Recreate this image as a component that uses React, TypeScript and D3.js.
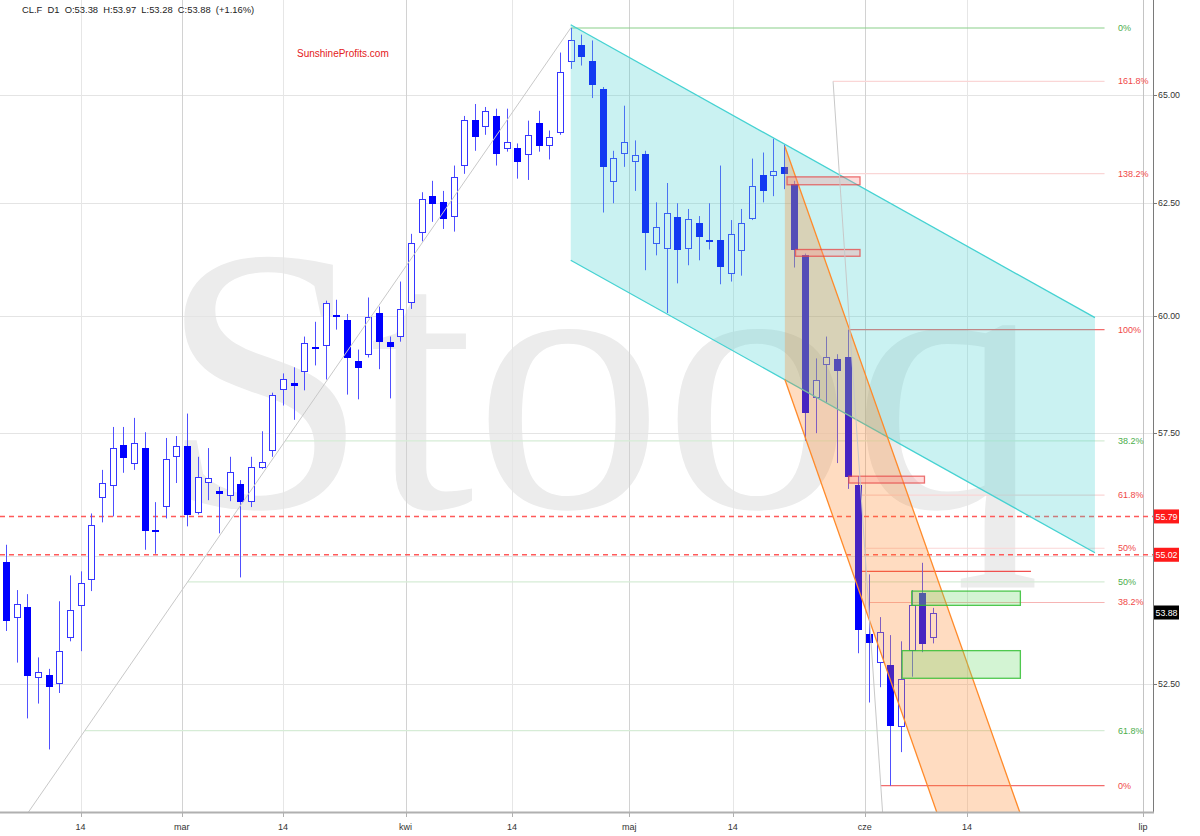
import React from "react";
import * as d3 from "d3";

const W = 1200;
const H = 836;
const PLOT = { left: 0, right: 1153, top: 0, bottom: 812 };

// CL.F daily candles, trading days 2019-02-05 … 2019-06-11 (index 0 … 87)
const opens = [
  54.88, 53.77, 53.98, 52.62, 52.68, 52.5, 53.38, 54.0, 54.51, 56.16,
  56.41, 57.25, 56.86, 57.19, 55.51, 55.98, 57.01, 57.23, 55.85, 56.47,
  56.31, 56.2, 56.45, 56.08, 56.78, 57.13, 58.4, 58.55, 58.78, 59.32,
  59.34, 60.02, 59.91, 59.02, 59.15, 60.07, 59.44, 59.55, 60.29, 61.84,
  62.66, 62.52, 62.19, 63.36, 64.42, 64.26, 64.51, 63.75, 63.77, 63.61,
  64.35, 63.8, 64.12, 65.79, 66.2, 65.82, 65.14, 62.99, 63.63, 63.45,
  63.63, 61.59, 61.48, 62.19, 61.48, 62.06, 61.68, 61.68, 60.91, 61.42,
  62.15, 63.15, 63.13, 63.33, 62.94, 61.33, 58.23, 58.95, 59.06, 59.12,
  56.43, 53.46, 52.91, 52.87, 51.68, 53.14, 54.26, 53.38,
];
const highs = [
  55.22, 54.32, 54.24, 53.01, 52.79, 54.1, 54.61, 54.69, 55.85, 56.74,
  57.63, 57.63, 57.82, 57.52, 56.08, 57.4, 57.44, 57.91, 57.01, 57.19,
  56.39, 57.01, 56.53, 57.01, 57.54, 58.35, 58.76, 58.89, 59.55, 59.87,
  60.33, 60.35, 60.04, 59.27, 60.4, 60.2, 59.55, 60.75, 61.81, 62.75,
  63.01, 62.78, 63.36, 64.51, 64.79, 64.72, 64.68, 64.68, 63.87, 64.4,
  64.63, 64.17, 66.01, 66.6, 66.44, 66.3, 65.19, 63.7, 64.75, 63.94,
  63.7, 62.52, 62.96, 62.5, 62.37, 62.21, 62.5, 63.36, 62.12, 62.37,
  63.52, 63.66, 63.98, 63.84, 63.01, 61.37, 59.08, 59.55, 59.17, 59.7,
  56.61, 54.63, 53.79, 53.44, 53.32, 54.32, 54.86, 53.97,
];
const lows = [
  53.52, 52.91, 51.85, 52.13, 51.27, 52.33, 53.32, 53.13, 54.3, 55.67,
  55.79, 56.68, 56.74, 55.12, 55.04, 55.75, 56.47, 55.59, 55.83, 56.12,
  55.45, 56.1, 54.57, 55.98, 56.76, 57.01, 58.08, 57.78, 58.4, 58.93,
  58.63, 59.7, 58.31, 58.21, 59.1, 58.85, 58.23, 59.44, 60.15, 61.64,
  62.08, 61.92, 61.86, 63.17, 63.7, 64.07, 63.36, 63.68, 63.06, 63.03,
  63.68, 63.5, 64.07, 65.62, 65.7, 64.93, 62.29, 62.5, 63.33, 62.78,
  61.0, 61.33, 60.06, 60.71, 61.11, 61.22, 61.46, 60.69, 60.75, 60.88,
  62.12, 62.52, 62.66, 62.82, 61.06, 57.34, 57.5, 58.14, 56.88, 56.35,
  53.09, 52.15, 52.44, 50.6, 51.22, 52.64, 53.11, 53.28,
];
const closes = [
  53.71, 54.04, 52.66, 52.73, 52.44, 53.13, 53.93, 54.45, 55.61, 56.47,
  57.19, 56.98, 57.29, 55.49, 55.49, 56.96, 57.23, 55.81, 56.59, 56.57,
  56.24, 56.7, 56.08, 56.8, 56.9, 58.31, 58.65, 58.5, 59.42, 59.29,
  60.27, 59.98, 59.08, 58.87, 59.98, 59.44, 59.32, 60.15, 61.61, 62.59,
  62.48, 62.15, 63.1, 64.42, 64.03, 64.63, 63.63, 63.91, 63.45, 64.07,
  63.8, 64.03, 65.55, 66.3, 65.91, 65.24, 63.33, 63.54, 63.91, 63.61,
  61.84, 61.97, 62.28, 61.44, 62.15, 61.73, 61.66, 61.08, 61.81, 62.06,
  62.89, 62.78, 63.24, 63.17, 61.44, 57.93, 58.63, 59.12, 58.82, 56.59,
  53.54, 53.28, 53.5, 51.7, 52.6, 54.02, 53.26, 53.88,
];

// axes
const yTicks = [52.5, 55, 57.5, 60, 62.5, 65];
const xTickLabels = ["14", "mar", "14", "kwi", "14", "maj", "14", "cze", "14", "lip"];
const xTickPos = [7, 16.5, 26, 37.5, 47.5, 58.5, 68.2, 80.6, 90.2, 106.7];
const xTickIsMonth = [false, true, false, true, false, true, false, true, false, true];

// drawings (index, price)
const cyanUpper = [{ i: 53, p: 66.68 }, { i: 102.2, p: 59.96 }];
const cyanLower = [{ i: 53, p: 61.22 }, { i: 102.2, p: 55.06 }];
const orangeUpper = [{ i: 73.1, p: 63.8 }, { i: 97.2, p: 49.0 }];
const orangeLower = [{ i: 73.1, p: 58.63 }, { i: 89.4, p: 49.0 }];

const redBoxes = [
  { i0: 73.3, i1: 80.15, pTop: 63.1, pBot: 62.92 },
  { i0: 74.1, i1: 80.15, pTop: 61.46, pBot: 61.31 },
  { i0: 79.1, i1: 86.2, pTop: 56.61, pBot: 56.47 },
];
const greenBoxes = [
  { i0: 85.0, i1: 95.2, pTop: 54.3, pBot: 54.02 },
  { i0: 84.1, i1: 95.2, pTop: 53.14, pBot: 52.61 },
];
const redSegment = { i0: 80.3, i1: 96.2, p: 54.69 };
const dashedLevels = [55.79, 55.02];
const lastPrice = 53.88;

// Fibonacci retracements: 100% anchor -> 0% anchor
const greenFib = { from: { i: -28, p: 42.36 }, to: { i: 53, p: 66.6 } };
const greenFibLevels = [0, 0.382, 0.5, 0.618];
const redFib = { from: { i: 79.2, p: 59.7 }, to: { i: 82.1, p: 50.6 } };
const redFibLevels = [0, 0.382, 0.5, 0.618, 1, 1.382, 1.618];
const fibEndIndex = 103.1;

const header = "CL.F  D1  O:53.38  H:53.97  L:53.28  C:53.88  (+1.16%)";

const SANS = "'Liberation Sans', Arial, Helvetica, sans-serif";

export default function App() {
  const x = d3.scaleLinear().domain([0, 87]).range([6, 933]);
  const y = d3.scaleLog().domain([50.12, 67.28]).range([PLOT.bottom, PLOT.top]);

  const pt = (d: { i: number; p: number }) => [x(d.i), y(d.p)] as [number, number];

  const fibLines = (
    fib: { from: { i: number; p: number }; to: { i: number; p: number } },
    levels: number[],
    colorFor: (l: number) => string,
    labelColor: string,
    key: string
  ) => {
    const [ax, ay] = pt(fib.from);
    const [bx, by] = pt(fib.to);
    const xEnd = x(fibEndIndex);
    return levels.map((l) => {
      const price = fib.to.p + l * (fib.from.p - fib.to.p);
      const yy = y(price);
      const xs = ax + ((yy - ay) / (by - ay)) * (bx - ax);
      const label = `${+(l * 100).toFixed(1)}%`;
      return (
        <g key={key + l}>
          <line x1={xs} x2={xEnd} y1={yy} y2={yy} stroke={colorFor(l)} strokeWidth={1.2} />
          <text x={1118} y={yy + 3} fontSize={9} fill={labelColor} fontFamily={SANS}>
            {label}
          </text>
        </g>
      );
    });
  };

  const line = d3.line();
  const poly = (a: any[], b: any[]) =>
    line([pt(a[0]), pt(a[1]), pt(b[1]), pt(b[0])]) + "Z";

  const gA = pt(greenFib.from);
  const gB = pt(greenFib.to);
  const rA = pt(redFib.from);
  const rB = pt(redFib.to);
  const rTopY = y(redFib.to.p + 1.618 * (redFib.from.p - redFib.to.p));
  const rxAt = (yy: number) => rA[0] + ((yy - rA[1]) / (rB[1] - rA[1])) * (rB[0] - rA[0]);

  // price-label boxes hide axis tick labels underneath them
  const boxedPrices = [...dashedLevels, lastPrice];
  const tickHidden = (t: number) => boxedPrices.some((p) => Math.abs(y(p) - y(t)) < 12);

  return (
    <svg
      width={W}
      height={H}
      style={{ position: "absolute", left: 0, top: 0, display: "block", background: "#fff" }}
    >
      <defs>
        <clipPath id="plotclip">
          <rect x={PLOT.left} y={PLOT.top} width={PLOT.right - PLOT.left} height={PLOT.bottom - PLOT.top} />
        </clipPath>
      </defs>
      <rect x={0} y={0} width={W} height={H} fill="#fff" />

      {/* watermark */}
      <text
        x={159}
        y={507}
        fontSize={378}
        fontFamily="'Liberation Serif', 'Times New Roman', serif"
        fill="#ececec"
      >
        Stooq
      </text>

      {/* grid */}
      <g>
        {yTicks.map((t) => (
          <line key={"hg" + t} x1={PLOT.left} x2={PLOT.right} y1={Math.round(y(t)) + 0.5} y2={Math.round(y(t)) + 0.5} stroke="#e4e4e4" />
        ))}
        {xTickPos.map((p, k) => (
          <line
            key={"vg" + k}
            x1={Math.round(x(p)) + 0.5}
            x2={Math.round(x(p)) + 0.5}
            y1={PLOT.top}
            y2={PLOT.bottom}
            stroke={k === xTickPos.length - 1 ? "#c4c4c4" : xTickIsMonth[k] ? "#d2d2d2" : "#e6e6e6"}
          />
        ))}
      </g>

      <g clipPath="url(#plotclip)">
        {fibLines(
          greenFib,
          greenFibLevels,
          (l) => (l === 0 ? "#8ad08a" : "#d6ecd6"),
          "#4cae4c",
          "g"
        )}
        {fibLines(
          redFib,
          redFibLevels,
          (l) => (l === 0 || l === 1 ? "#f26c6c" : l === 0.382 ? "#f6b4b4" : "#fad6d6"),
          "#f04848",
          "r"
        )}

        {dashedLevels.map((p) => (
          <line
            key={"dl" + p}
            x1={PLOT.left}
            x2={PLOT.right}
            y1={y(p)}
            y2={y(p)}
            stroke="#ff5a5a"
            strokeWidth={1.5}
            strokeDasharray="5,4"
          />
        ))}

        <line
          x1={x(redSegment.i0)}
          x2={x(redSegment.i1)}
          y1={y(redSegment.p)}
          y2={y(redSegment.p)}
          stroke="#f05050"
          strokeWidth={1.2}
        />

        {opens.map((o, i) => {
          const c = closes[i];
          const cx = Math.round(x(i)) + 0.5;
          const bull = c > o;
          const yT = Math.round(y(Math.max(o, c)));
          const yB = Math.round(y(Math.min(o, c)));
          return (
            <g key={"c" + i}>
              <line x1={cx} x2={cx} y1={y(highs[i])} y2={y(lows[i])} stroke="#4f4fff" strokeWidth={1} />
              {bull ? (
                <rect
                  x={cx - 3}
                  y={yT + 0.5}
                  width={6}
                  height={Math.max(1, yB - yT - 1)}
                  fill="#fff"
                  stroke="#3535ff"
                  strokeWidth={1}
                />
              ) : (
                <rect x={cx - 3.5} y={yT} width={7} height={Math.max(2, yB - yT)} fill="#0000ff" />
              )}
            </g>
          );
        })}

        <path d={poly(cyanUpper, cyanLower)} fill="rgba(64,208,208,0.28)" stroke="none" />
        <line x1={pt(cyanUpper[0])[0]} y1={pt(cyanUpper[0])[1]} x2={pt(cyanUpper[1])[0]} y2={pt(cyanUpper[1])[1]} stroke="#45d2d2" strokeWidth={1.3} />
        <line x1={pt(cyanLower[0])[0]} y1={pt(cyanLower[0])[1]} x2={pt(cyanLower[1])[0]} y2={pt(cyanLower[1])[1]} stroke="#45d2d2" strokeWidth={1.3} />

        <path d={poly(orangeUpper, orangeLower)} fill="rgba(255,128,32,0.28)" stroke="none" />
        <line x1={pt(orangeUpper[0])[0]} y1={pt(orangeUpper[0])[1]} x2={pt(orangeUpper[1])[0]} y2={pt(orangeUpper[1])[1]} stroke="#ff8a2a" strokeWidth={1.3} />
        <line x1={pt(orangeLower[0])[0]} y1={pt(orangeLower[0])[1]} x2={pt(orangeLower[1])[0]} y2={pt(orangeLower[1])[1]} stroke="#ff8a2a" strokeWidth={1.3} />

        {redBoxes.map((b, k) => (
          <rect
            key={"rb" + k}
            x={x(b.i0)}
            y={y(b.pTop)}
            width={x(b.i1) - x(b.i0)}
            height={y(b.pBot) - y(b.pTop)}
            fill="rgba(255,140,140,0.3)"
            stroke="rgba(230,70,70,0.75)"
            strokeWidth={1.3}
          />
        ))}
        {greenBoxes.map((b, k) => (
          <rect
            key={"gb" + k}
            x={x(b.i0)}
            y={y(b.pTop)}
            width={x(b.i1) - x(b.i0)}
            height={y(b.pBot) - y(b.pTop)}
            fill="rgba(110,220,110,0.3)"
            stroke="rgba(50,190,50,0.85)"
            strokeWidth={1.3}
          />
        ))}

        <line x1={gA[0]} y1={gA[1]} x2={gB[0]} y2={gB[1]} stroke="#c8c8c8" strokeWidth={1} />
        <line x1={rxAt(rTopY)} y1={rTopY} x2={rxAt(900)} y2={900} stroke="#c8c8c8" strokeWidth={1} />
      </g>

      {/* right axis */}
      <line x1={PLOT.right + 0.5} x2={PLOT.right + 0.5} y1={0} y2={PLOT.bottom} stroke="#7a7a7a" />
      {yTicks.map((t) => (
        <g key={"yt" + t}>
          <line x1={PLOT.right} x2={PLOT.right + 4} y1={Math.round(y(t)) + 0.5} y2={Math.round(y(t)) + 0.5} stroke="#7a7a7a" />
          {!tickHidden(t) && (
            <text x={PLOT.right + 5} y={y(t) + 3} fontSize={8.8} fill="#333" fontFamily={SANS}>
              {t.toFixed(2)}
            </text>
          )}
        </g>
      ))}
      {dashedLevels.map((p) => (
        <g key={"pl" + p}>
          <rect x={PLOT.right + 1} y={y(p) - 7} width={25} height={14} fill="#ff1a1a" />
          <text x={PLOT.right + 2.5} y={y(p) + 3.2} fontSize={8.8} fill="#fff" fontFamily={SANS}>
            {p.toFixed(2)}
          </text>
        </g>
      ))}
      <rect x={PLOT.right + 1} y={y(lastPrice) - 7} width={25} height={14} fill="#000" />
      <text x={PLOT.right + 2.5} y={y(lastPrice) + 3.2} fontSize={8.8} fill="#fff" fontFamily={SANS}>
        {lastPrice.toFixed(2)}
      </text>

      {/* bottom axis */}
      <line x1={0} x2={PLOT.right + 1} y1={PLOT.bottom + 0.5} y2={PLOT.bottom + 0.5} stroke="#b0b0b0" strokeWidth={2} />
      {xTickPos.map((p, k) => (
        <g key={"xt" + k}>
          <line x1={Math.round(x(p)) + 0.5} x2={Math.round(x(p)) + 0.5} y1={PLOT.bottom} y2={PLOT.bottom + 5} stroke="#b0b0b0" />
          <text x={x(p)} y={830} fontSize={9} fill="#333" textAnchor="middle" fontFamily={SANS}>
            {xTickLabels[k]}
          </text>
        </g>
      ))}

      {/* header & credits */}
      <text x={22} y={13} fontSize={9.4} fill="#222" fontFamily={SANS} style={{ whiteSpace: "pre" }}>
        {header}
      </text>
      <text x={297} y={57} fontSize={10} fill="#e42020" fontFamily={SANS}>
        SunshineProfits.com
      </text>
    </svg>
  );
}
